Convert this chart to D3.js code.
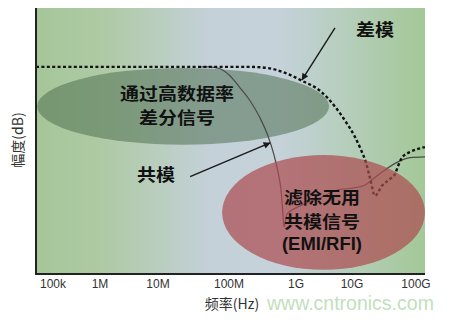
<!DOCTYPE html>
<html><head><meta charset="utf-8">
<script src="https://cdn.jsdelivr.net/npm/d3@7"></script>
<style>html,body{margin:0;padding:0;background:#fff;overflow:hidden}</style>
</head><body>
<svg id="chart" width="451" height="320"></svg>
<script>
// ---- data ----
const tickExponents = [5, 6, 7, 8, 9, 10, 11];
const tickLabels = ["100k", "1M", "10M", "100M", "1G", "10G", "100G"];

// differential mode (dashed)
const dmFreq = [4.35e4, 2.1e8, 3.8e8, 6.9e8, 1.3e9, 2.7e9, 5.0e9, 7.8e9, 1.11e10, 1.38e10, 1.66e10, 1.91e10, 2.29e10, 2.94e10, 3.93e10, 4.7e10, 5.24e10, 6.04e10, 8.06e10, 1.07e11, 1.38e11];
const dmDb   = [0, 0, -0.3, -1.6, -3.7, -6.3, -10.5, -14.5, -18.4, -21.8, -25.3, -29.2, -33.9, -31.3, -29.5, -28.2, -26.1, -23.9, -22.4, -21.6, -21.1];

// common mode (solid)
const cmFreq = [3.9e7, 5.2e7, 7.46e7, 1.04e8, 1.46e8, 2.06e8, 2.9e8, 3.82e8, 4.7e8, 5.38e8, 5.97e8, 6.29e8, 6.63e8, 7.35e8, 1.18e9, 2.68e9, 5.39e9, 1.11e10, 1.6e10, 2.05e10, 3.28e10, 5.24e10, 8.06e10, 1.38e11];
const cmDb   = [0, 0, -0.5, -2.4, -5.5, -8.9, -13.4, -18.2, -23.2, -27.6, -32.4, -37.1, -42.1, -38.7, -36.6, -34.5, -32.4, -31.8, -31.1, -29.7, -27.1, -25.0, -23.9, -23.7];

// regions (freq range, dB range)
const passRegion   = {f: [4.6e4, 3.9e9],  db: [-0.26, -20.5]};
const filterRegion = {f: [8.0e7, 1.38e11], db: [-23.2, -53.4]};

const passText   = ["通过高数据率", "差分信号"];
const filterText = ["滤除无用", "共模信号", "(EMI/RFI)"];

// ---- layout ----
const plot = {left: 36, right: 425, top: 8, bottom: 274};

const x = d3.scaleLinear().domain(tickExponents).range([53, 100, 158, 229, 296, 352, 416]);
const fx = f => x(Math.log10(f));
const y = d3.scaleLinear().domain([15.5, -54.5]).range([plot.top, plot.bottom]);

const svg = d3.select("#chart");
const defs = svg.append("defs");

const grad = defs.append("linearGradient").attr("id", "bg")
  .attr("x1", "0%").attr("x2", "100%").attr("y1", "0%").attr("y2", "0%");
[["0%", "#a5c699"], ["18%", "#afcaa5"], ["45%", "#c4d1d9"], ["63%", "#c5d2da"], ["100%", "#a3c897"]]
  .forEach(([o, c]) => grad.append("stop").attr("offset", o).attr("stop-color", c));

defs.append("marker").attr("id", "arr")
  .attr("viewBox", "0 0 10 10").attr("refX", 9).attr("refY", 5)
  .attr("markerWidth", 9).attr("markerHeight", 7).attr("markerUnits", "userSpaceOnUse")
  .attr("orient", "auto")
  .append("path").attr("d", "M0,0 L10,5 L0,10 Z").attr("fill", "#1a1a1a");

svg.append("rect")
  .attr("x", plot.left).attr("y", plot.top)
  .attr("width", plot.right - plot.left).attr("height", plot.bottom - plot.top)
  .attr("fill", "url(#bg)");

function ellipse(r, fill, op) {
  const x0 = fx(r.f[0]), x1 = fx(r.f[1]), y0 = y(r.db[0]), y1 = y(r.db[1]);
  return svg.append("ellipse")
    .attr("cx", (x0 + x1) / 2).attr("cy", (y0 + y1) / 2)
    .attr("rx", (x1 - x0) / 2).attr("ry", (y1 - y0) / 2)
    .attr("fill", fill).attr("fill-opacity", op);
}

ellipse(passRegion, "#4a6b4d", 0.52);

const line = d3.line().x(d => fx(d[0])).y(d => y(d[1])).curve(d3.curveMonotoneX);

svg.append("path")
  .datum(cmFreq.map((f, i) => [f, cmDb[i]]))
  .attr("d", line).attr("fill", "none")
  .attr("stroke", "#4a4a4a").attr("stroke-width", 1.2);

svg.append("path")
  .datum(dmFreq.map((f, i) => [f, dmDb[i]]))
  .attr("d", line).attr("fill", "none")
  .attr("stroke", "#111").attr("stroke-width", 2.4)
  .attr("stroke-dasharray", "3,2.4");

ellipse(filterRegion, "#ad4a4f", 0.7);

// ---- texts ----
const cjk = "'Noto Sans CJK SC', 'Liberation Sans', sans-serif";
const latin = "'Liberation Sans', Arial, sans-serif";
const CJK_SIZE = 16.5, CJK_ADV = 19;   // glyphs a little wider than tall, as in the picture
const isLatin = s => /^[\x00-\x7f]+$/.test(s);

function label(s, cx, cy) {
  const t = svg.append("text")
    .attr("x", cx).attr("text-anchor", "middle")
    .attr("fill", "#111").text(s);
  if (isLatin(s)) {
    t.attr("y", cy + 6.5).attr("font-family", latin).attr("font-size", 18)
     .attr("font-weight", 700).attr("textLength", 80).attr("lengthAdjust", "spacingAndGlyphs");
  } else {
    t.attr("y", cy + 6.3).attr("font-family", cjk).attr("font-size", CJK_SIZE)
     .attr("font-weight", 700).attr("textLength", s.length * CJK_ADV)
     .attr("lengthAdjust", "spacingAndGlyphs");
  }
  return t;
}

// multi-line blocks
const passOffsets = [0, 24];
passText.forEach((s, i) => label(s, fx(1.85e7), y(-7.1) + passOffsets[i]));
const filterOffsets = [0, 24, 45];
filterText.forEach((s, i) => label(s, fx(2.91e9), y(-34.5) + filterOffsets[i]));

// mode labels + arrows
const modeLabels = [
  {t: "差模", f: 2.29e10, db: 9.7},
  {t: "共模", f: 9.25e6, db: -28.4}
];
modeLabels.forEach(d => label(d.t, fx(d.f), y(d.db)));

const arrows = [
  {f0: 4.97e9, db0: 10.3, f1: 1.28e9, db1: -3.4},
  {f0: 2.83e7, db0: -28.9, f1: 4.09e8, db1: -20.0}
];
svg.append("g").selectAll("line").data(arrows).join("line")
  .attr("x1", d => fx(d.f0)).attr("y1", d => y(d.db0))
  .attr("x2", d => fx(d.f1)).attr("y2", d => y(d.db1))
  .attr("stroke", "#1a1a1a").attr("stroke-width", 1.4)
  .attr("marker-end", "url(#arr)");

// axes
svg.append("line").attr("x1", plot.left).attr("x2", plot.left)
  .attr("y1", plot.top).attr("y2", plot.bottom + 1)
  .attr("stroke", "#222").attr("stroke-width", 2);
svg.append("line").attr("x1", plot.left - 1).attr("x2", plot.right)
  .attr("y1", plot.bottom).attr("y2", plot.bottom)
  .attr("stroke", "#222").attr("stroke-width", 2);

svg.append("g").selectAll("text").data(tickExponents).join("text")
  .attr("x", d => x(d)).attr("y", 288)
  .attr("text-anchor", "middle")
  .attr("font-family", latin).attr("font-size", 12)
  .attr("fill", "#333").text((d, i) => tickLabels[i]);

svg.append("text").attr("x", 232).attr("y", 309)
  .attr("text-anchor", "middle")
  .attr("font-family", cjk).attr("font-size", 14).attr("fill", "#333")
  .text("频率(Hz)");

svg.append("text")
  .attr("transform", "translate(17,140) rotate(-90)")
  .attr("text-anchor", "middle").attr("dominant-baseline", "central")
  .attr("font-family", cjk).attr("font-size", 14).attr("fill", "#333")
  .text("幅度(dB)");

svg.append("text").attr("x", 267).attr("y", 310)
  .attr("font-family", latin).attr("font-size", 19.5)
  .attr("fill", "#c2dfbd").text("www.cntronics.com");
</script>
</body></html>
